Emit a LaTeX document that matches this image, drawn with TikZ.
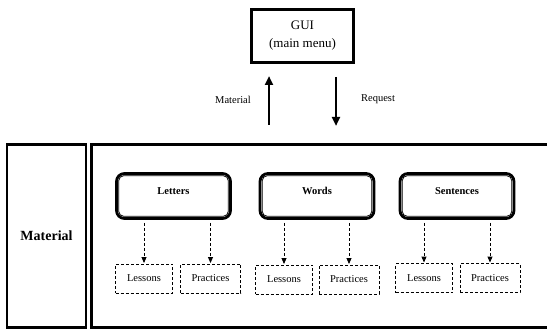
\documentclass[tikz,border=0pt]{standalone}
\usepackage{fontspec}
\setmainfont{Liberation Serif}
\usetikzlibrary{arrows.meta}
\begin{document}
\begin{tikzpicture}[x=1pt,y=-1pt,
  guibox/.style={draw, line width=2.6pt, minimum width=102pt, minimum height=53pt, align=center, font=\fontsize{13}{18}\selectfont},
  framebox/.style={draw, line width=2.4pt, inner sep=0pt},
  catbox/.style={draw, line width=2.8pt, rounded corners=8pt, minimum width=114pt, minimum height=45pt, font=\fontsize{10.5}{12}\selectfont\bfseries, text height=7pt, text depth=10pt},
  innerline/.style={draw, line width=0.8pt, rounded corners=5pt},
  dbox/.style={draw, line width=0.9pt, dash pattern=on 3pt off 2pt, minimum width=57pt, minimum height=29pt, font=\fontsize{10.5}{12}\selectfont},
  darr/.style={line width=0.9pt, dash pattern=on 3pt off 2pt, -{Triangle[length=6pt,width=5pt]}},
  sarr/.style={line width=2.4pt, -{Triangle[length=9pt,width=8pt]}},
  lbl/.style={font=\fontsize{10.5}{12}\selectfont}
]
\useasboundingbox (0,0) rectangle (547,329);
\clip (0,0) rectangle (547,329);

% GUI
\node[guibox] (gui) at (302.5,36) {GUI\\(main menu)};

% frames
\node[framebox, minimum width=79pt, minimum height=183pt, font=\fontsize{14}{16}\selectfont\bfseries] (mat) at (46.5,236) {Material};
\node[framebox, minimum width=480pt, minimum height=183pt] (frame) at (331.5,236) {};

% solid arrows
\coordinate (upS) at (269,125);
\coordinate (upE) at (269,76);
\coordinate (dnS) at (336,77);
\coordinate (dnE) at (336,126);
\draw[sarr] (upS) -- (upE);
\draw[sarr] (dnS) -- (dnE);
\node[lbl] (lmat) at (233,100) {Material};
\node[lbl] (lreq) at (378,99) {Request};

% category boxes
\node[catbox] (L) at (173.5,196) {Letters};
\node[catbox] (W) at (317,196) {Words};
\node[catbox] (S) at (457,196) {Sentences};
\foreach \n in {L,W,S}{
  \draw[innerline] ([shift={(3.6pt,-3.6pt)}]\n.north west) rectangle ([shift={(-3.6pt,3.6pt)}]\n.south east);
}

% sub boxes
\node[dbox] (L1) at (144,278.5) {Lessons};
\node[dbox, minimum width=60pt] (L2) at (210.5,278.5) {Practices};
\node[dbox] (W1) at (284,279.5) {Lessons};
\node[dbox, minimum width=60pt] (W2) at (349,279.5) {Practices};
\node[dbox] (S1) at (424,278) {Lessons};
\node[dbox, minimum width=60pt] (S2) at (490,278) {Practices};

% dashed arrows
\foreach \p/\c in {L/L1,L/L2,W/W1,W/W2,S/S1,S/S2}{
  \draw[darr] ([yshift=-3pt]\p.south -| \c.north) -- ([yshift=0.5pt]\c.north);
}
\end{tikzpicture}
\end{document}
